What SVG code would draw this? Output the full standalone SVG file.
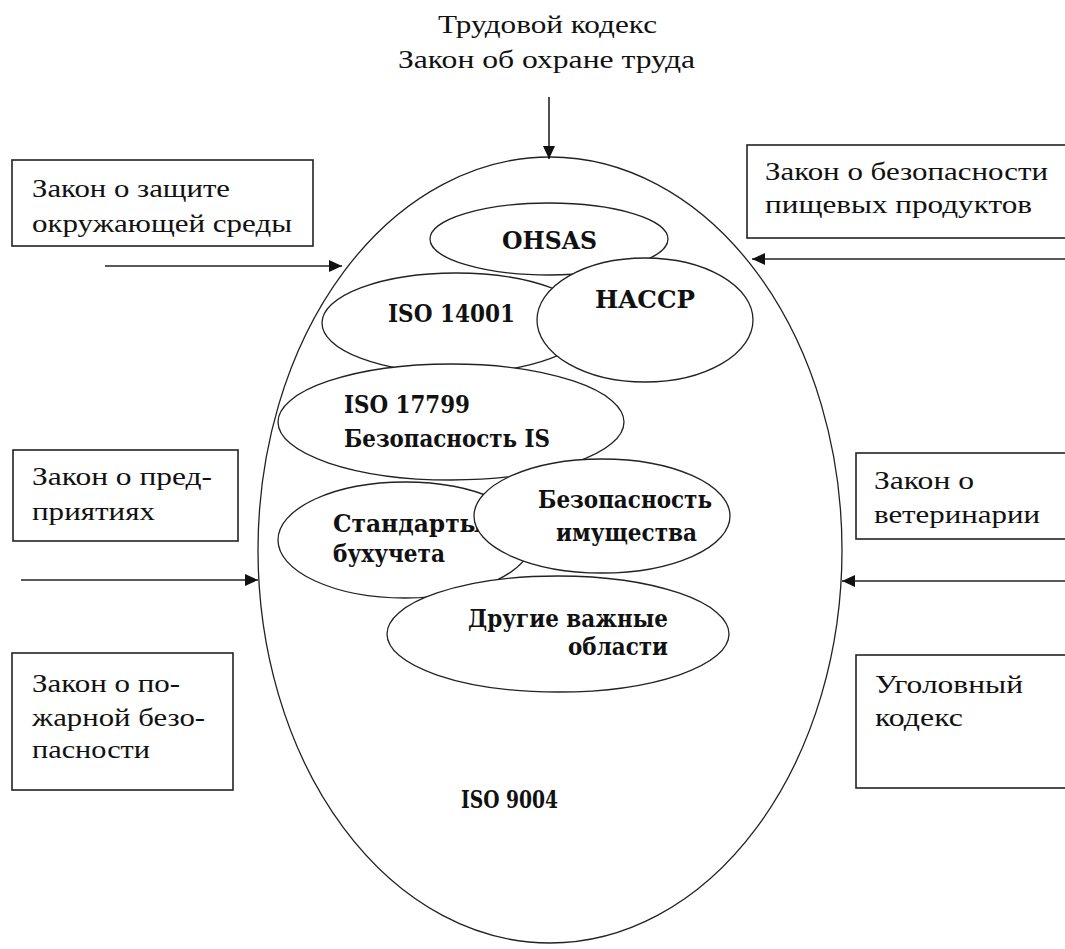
<svg xmlns="http://www.w3.org/2000/svg" width="1065" height="949" viewBox="0 0 1065 949">
<style>
.t{font-family:"Liberation Serif","Times New Roman",serif;font-size:26px;fill:#111}
.b{font-family:"DejaVu Serif","Liberation Serif",serif;font-size:24px;font-weight:bold;fill:#111}
.e{fill:#fff;stroke:#222;stroke-width:1.3}
.box{fill:#fff;stroke:#222;stroke-width:1.6}
.c{stroke:#222;stroke-width:1.6;fill:none}
</style>
<defs>
<marker id="ah" markerUnits="userSpaceOnUse" markerWidth="13" markerHeight="12" refX="13" refY="6" orient="auto">
<path d="M0,0 L13,6 L0,12 z" fill="#111"/>
</marker>
</defs>
<rect width="1065" height="949" fill="#fff"/>

<g id="iso9004">
<ellipse class="e" cx="550" cy="550" rx="292" ry="393"/>
<text class="b" x="461" y="808" textLength="97" lengthAdjust="spacingAndGlyphs">ISO 9004</text>
</g>

<g id="top-label">
<text class="t" x="438" y="33" textLength="219" lengthAdjust="spacingAndGlyphs">Трудовой кодекс</text>
<text class="t" x="398" y="68" textLength="297" lengthAdjust="spacingAndGlyphs">Закон об охране труда</text>
</g>

<g id="ohsas">
<ellipse class="e" cx="549" cy="239" rx="119" ry="36"/>
<text class="b" x="502" y="249" textLength="95" lengthAdjust="spacingAndGlyphs">OHSAS</text>
</g>
<g id="iso14001">
<ellipse class="e" cx="456" cy="323" rx="134" ry="50"/>
<text class="b" x="388" y="322" textLength="127" lengthAdjust="spacingAndGlyphs">ISO 14001</text>
</g>
<g id="haccp">
<ellipse class="e" cx="645" cy="320" rx="108" ry="62"/>
<text class="b" x="595" y="308" textLength="100" lengthAdjust="spacingAndGlyphs">HACCP</text>
</g>
<g id="iso17799">
<ellipse class="e" cx="451" cy="422" rx="173" ry="58"/>
<text class="b" x="344" y="413" textLength="126" lengthAdjust="spacingAndGlyphs">ISO 17799</text>
<text class="b" x="344" y="447" textLength="206" lengthAdjust="spacingAndGlyphs">Безопасность IS</text>
</g>
<g id="accounting">
<ellipse class="e" cx="405" cy="540" rx="127" ry="58"/>
<text class="b" x="333" y="532" textLength="150" lengthAdjust="spacingAndGlyphs">Стандарты</text>
<text class="b" x="333" y="562" textLength="112" lengthAdjust="spacingAndGlyphs">бухучета</text>
</g>
<g id="property">
<ellipse class="e" cx="602" cy="516" rx="128" ry="57"/>
<text class="b" x="538" y="508" textLength="174" lengthAdjust="spacingAndGlyphs">Безопасность</text>
<text class="b" x="556" y="541" textLength="141" lengthAdjust="spacingAndGlyphs">имущества</text>
</g>
<g id="other">
<ellipse class="e" cx="558" cy="634" rx="171" ry="58"/>
<text class="b" x="468" y="627" textLength="200" lengthAdjust="spacingAndGlyphs">Другие важные</text>
<text class="b" x="568" y="655" textLength="100" lengthAdjust="spacingAndGlyphs">области</text>
</g>

<g id="box-env">
<rect class="box" x="12" y="160" width="301" height="86"/>
<text class="t" x="32" y="197" textLength="198" lengthAdjust="spacingAndGlyphs">Закон о защите</text>
<text class="t" x="32" y="232" textLength="260" lengthAdjust="spacingAndGlyphs">окружающей среды</text>
</g>
<g id="box-food">
<rect class="box" x="747" y="145" width="330" height="93"/>
<text class="t" x="765" y="180" textLength="283" lengthAdjust="spacingAndGlyphs">Закон о безопасности</text>
<text class="t" x="765" y="213" textLength="267" lengthAdjust="spacingAndGlyphs">пищевых продуктов</text>
</g>
<g id="box-enterprise">
<rect class="box" x="13" y="450" width="225" height="91"/>
<text class="t" x="32" y="485" textLength="180" lengthAdjust="spacingAndGlyphs">Закон о пред-</text>
<text class="t" x="32" y="520" textLength="123" lengthAdjust="spacingAndGlyphs">приятиях</text>
</g>
<g id="box-vet">
<rect class="box" x="856" y="453" width="220" height="86"/>
<text class="t" x="874" y="489" textLength="100" lengthAdjust="spacingAndGlyphs">Закон о</text>
<text class="t" x="874" y="523" textLength="166" lengthAdjust="spacingAndGlyphs">ветеринарии</text>
</g>
<g id="box-fire">
<rect class="box" x="12" y="653" width="221" height="137"/>
<text class="t" x="32" y="692" textLength="148" lengthAdjust="spacingAndGlyphs">Закон о по-</text>
<text class="t" x="32" y="726" textLength="173" lengthAdjust="spacingAndGlyphs">жарной безо-</text>
<text class="t" x="32" y="758" textLength="118" lengthAdjust="spacingAndGlyphs">пасности</text>
</g>
<g id="box-criminal">
<rect class="box" x="856" y="655" width="220" height="133"/>
<text class="t" x="875" y="693" textLength="148" lengthAdjust="spacingAndGlyphs">Уголовный</text>
<text class="t" x="875" y="726" textLength="88" lengthAdjust="spacingAndGlyphs">кодекс</text>
</g>

<g id="connectors">
<line class="c" x1="549" y1="97" x2="549" y2="159" marker-end="url(#ah)"/>
<line class="c" x1="105" y1="266" x2="342" y2="266" marker-end="url(#ah)"/>
<line class="c" x1="1065" y1="259" x2="752" y2="259" marker-end="url(#ah)"/>
<line class="c" x1="21" y1="580" x2="258" y2="580" marker-end="url(#ah)"/>
<line class="c" x1="1065" y1="581" x2="842" y2="581" marker-end="url(#ah)"/>
</g>
</svg>
